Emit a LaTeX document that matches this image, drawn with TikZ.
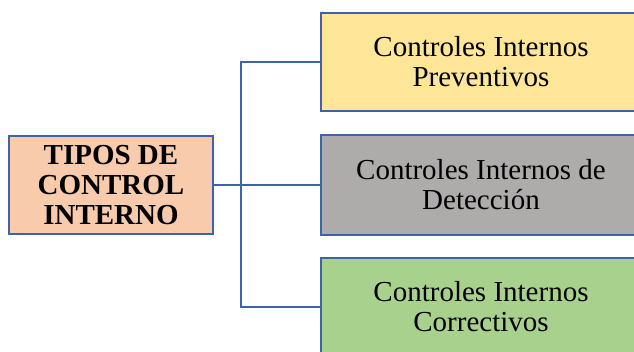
\documentclass[tikz,border=0pt]{standalone}
\usepackage{fontspec}
\setmainfont{Liberation Serif}
\definecolor{lineblue}{HTML}{3F62A9}
\definecolor{peach}{HTML}{F8CBAD}
\definecolor{yel}{HTML}{FFE699}
\definecolor{gry}{HTML}{AEABAB}
\definecolor{grn}{HTML}{A9D18E}
\tikzset{
  box/.style={draw=lineblue, line width=2.6pt, inner sep=0pt, align=center,
    font=\fontsize{29}{30}\selectfont, text=black},
  conn/.style={draw=lineblue, line width=2.6pt}
}
\begin{document}
\begin{tikzpicture}[x=1pt,y=1pt]
\useasboundingbox (0,0) rectangle (634,-352);
\fill[white] (0,0) rectangle (634,-352);
\clip (0,0) rectangle (634,-352);
\node[box, fill=peach, minimum width=204pt, minimum height=98pt,
  font=\fontsize{29}{30}\selectfont\bfseries] (tipos) at (111,-185)
  {TIPOS DE\\CONTROL\\INTERNO};
\node[box, fill=yel, minimum width=320pt, minimum height=98pt] (prev) at (481,-62)
  {Controles Internos\\Preventivos};
\node[box, fill=gry, minimum width=320pt, minimum height=100pt] (det) at (481,-185)
  {Controles Internos de\\Detección};
\node[box, fill=grn, minimum width=320pt, minimum height=98pt] (corr) at (481,-307)
  {Controles Internos\\Correctivos};
\coordinate (j) at (241,-185);
\draw[conn] (tipos.east) -- (det.west);
\draw[conn] (prev.west) -| (j) |- (corr.west);
\end{tikzpicture}
\end{document}
